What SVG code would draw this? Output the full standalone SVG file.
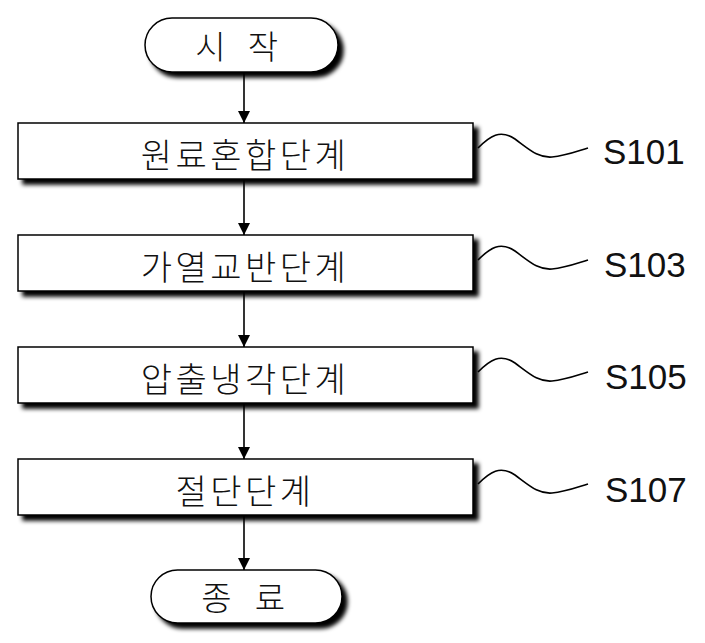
<svg xmlns="http://www.w3.org/2000/svg" width="705" height="643" viewBox="0 0 705 643">
<defs>
<filter id="sh" x="-10%" y="-20%" width="130%" height="160%">
<feDropShadow dx="5" dy="5" stdDeviation="2" flood-color="#000" flood-opacity="1"/>
</filter>
<marker id="ah" viewBox="0 0 12 17" refX="12" refY="8.5" markerWidth="12" markerHeight="17" markerUnits="userSpaceOnUse" orient="auto">
<path d="M0,2.5 L12,8.5 L0,14.5 Z" fill="#000"/>
</marker>
<style>
.box{fill:#fff;stroke:#000;stroke-width:1.5;filter:url(#sh)}
.t{font-family:"Noto Sans CJK KR","Noto Sans",sans-serif;font-size:34px;font-weight:300;letter-spacing:3.5px;fill:#111;text-anchor:middle}
.tt{font-family:"Noto Sans CJK KR","Noto Sans",sans-serif;font-size:33px;font-weight:300;fill:#111;text-anchor:middle}
.lbl{font-family:"Liberation Sans",Arial,sans-serif;font-size:35px;fill:#111}
.c{fill:none;stroke:#000;stroke-width:1.6}
.w{fill:none;stroke:#000;stroke-width:1.6}
</style>
</defs>
<g id="start">
<rect class="box" x="145" y="18" width="193" height="54" rx="27" ry="27"/>
<text class="tt" y="59"><tspan x="214">시</tspan> <tspan x="263">작</tspan></text>
</g>
<g id="s101">
<rect class="box" x="18" y="123" width="455" height="56"/>
<text class="t" x="245" y="168">원료혼합단계</text>
</g>
<g id="s103">
<rect class="box" x="18" y="235" width="455" height="56"/>
<text class="t" x="245" y="280">가열교반단계</text>
</g>
<g id="s105">
<rect class="box" x="18" y="347" width="455" height="56"/>
<text class="t" x="245" y="392">압출냉각단계</text>
</g>
<g id="s107">
<rect class="box" x="18" y="459" width="455" height="56"/>
<text class="t" x="245" y="504">절단단계</text>
</g>
<g id="end">
<rect class="box" x="151" y="570" width="191" height="53" rx="26.5" ry="26.5"/>
<text class="tt" y="610"><tspan x="220">종</tspan> <tspan x="270">료</tspan></text>
</g>
<g id="connectors">
<line class="c" x1="244" y1="72" x2="244" y2="123" marker-end="url(#ah)"/>
<line class="c" x1="244" y1="179" x2="244" y2="235" marker-end="url(#ah)"/>
<line class="c" x1="244" y1="291" x2="244" y2="347" marker-end="url(#ah)"/>
<line class="c" x1="244" y1="403" x2="244" y2="459" marker-end="url(#ah)"/>
<line class="c" x1="244" y1="515" x2="244" y2="570" marker-end="url(#ah)"/>
</g>
<g id="leaders">
<path class="w" d="M478,148 C490,136 500,129 515,139 C530,150 538,158 552,157 C565,156 575,152 588,148"/>
<path class="w" d="M478,260 C490,248 500,241 515,251 C530,262 538,270 552,269 C565,268 575,264 588,260"/>
<path class="w" d="M478,372 C490,360 500,353 515,363 C530,374 538,382 552,381 C565,380 575,376 588,372"/>
<path class="w" d="M478,484 C490,472 500,465 515,475 C530,486 538,494 552,493 C565,492 575,488 588,484"/>
</g>
<g id="labels">
<text class="lbl" x="603" y="164">S101</text>
<text class="lbl" x="604" y="277">S103</text>
<text class="lbl" x="605" y="389">S105</text>
<text class="lbl" x="605" y="502">S107</text>
</g>
</svg>
